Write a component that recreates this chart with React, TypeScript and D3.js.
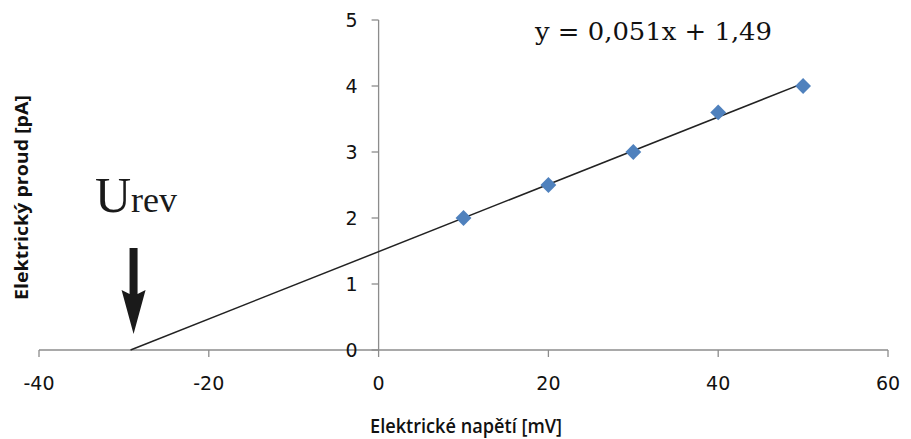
import React from "react";
import * as d3 from "d3";

const voltages = [10, 20, 30, 40, 50];
const currents = [2.0, 2.5, 3.0, 3.6, 4.0];
const xTicks = [-40, -20, 0, 20, 40, 60];
const yTicks = [0, 1, 2, 3, 4, 5];
const slope = 0.051;
const intercept = 1.49;
const equationLabel = "y = 0,051x + 1,49";
const xTitle = "Elektrické napětí [mV]";
const yTitle = "Elektrický proud [pA]";

const W = 911;
const H = 439;

export default function App() {
  const x = d3.scaleLinear().domain([-40, 60]).range([39, 888]);
  const y = d3.scaleLinear().domain([0, 5]).range([350, 20]);
  const axisColor = "#8c8c8c";
  const tickFont = "'DejaVu Sans', sans-serif";

  const x0 = -intercept / slope;
  const x1 = d3.max(voltages) as number;
  const trend = d3.line<number>().x((d) => x(d)).y((d) => y(slope * d + intercept));

  const diamond = d3.symbol().type(d3.symbolDiamond2).size(160);

  const arrowX = x(x0) + 3;

  return (
    <svg width={W} height={H} style={{ position: "absolute", left: 0, top: 0, background: "#fff" }}>
      {/* x axis */}
      <line x1={x(-40)} x2={x(60)} y1={y(0)} y2={y(0)} stroke={axisColor} strokeWidth={1.3} />
      {xTicks.map((t) => (
        <g key={"xt" + t}>
          <line x1={x(t)} x2={x(t)} y1={y(0)} y2={y(0) + 7} stroke={axisColor} strokeWidth={1.3} />
          <text x={x(t)} y={y(0) + 40} textAnchor="middle" fontFamily={tickFont} fontSize={19} fill="#111">
            {t}
          </text>
        </g>
      ))}
      {/* y axis */}
      <line x1={x(0)} x2={x(0)} y1={y(0)} y2={y(5)} stroke={axisColor} strokeWidth={1.3} />
      {yTicks.map((t) => (
        <g key={"yt" + t}>
          <line x1={x(0) - 7} x2={x(0)} y1={y(t)} y2={y(t)} stroke={axisColor} strokeWidth={1.3} />
          <text x={x(0) - 21} y={y(t) + 7} textAnchor="end" fontFamily={tickFont} fontSize={19} fill="#111">
            {t}
          </text>
        </g>
      ))}
      {/* trend line */}
      <path d={trend([x0, x1]) || ""} stroke="#222" strokeWidth={1.5} fill="none" />
      {/* points */}
      {voltages.map((v, i) => (
        <path
          key={"p" + i}
          d={diamond() || ""}
          transform={`translate(${x(v)},${y(currents[i])})`}
          fill="#4f81bd"
        />
      ))}
      {/* equation */}
      <text
        x={535}
        y={40}
        textLength={237}
        lengthAdjust="spacingAndGlyphs"
        fontFamily="'DejaVu Serif', 'Liberation Serif', serif"
        fontSize={25}
        fill="#111"
      >
        {equationLabel}
      </text>
      {/* Urev annotation */}
      <text x={95} y={212} fontFamily="'Liberation Serif', serif" fill="#1a1a1a">
        <tspan fontSize={50}>U</tspan>
        <tspan fontSize={36}>rev</tspan>
      </text>
      <path
        d={`M${arrowX - 4},248 L${arrowX + 4},248 L${arrowX + 4},294 L${arrowX + 12},290 L${arrowX},334 L${arrowX - 12},290 L${arrowX - 4},294 Z`}
        fill="#1a1a1a"
      />
      {/* axis titles */}
      <text
        x={370}
        y={433}
        textLength={192}
        lengthAdjust="spacingAndGlyphs"
        fontFamily="'Open Sans', 'Noto Sans', sans-serif"
        fontWeight={600}
        fontSize={20}
        fill="#111"
      >
        {xTitle}
      </text>
      <text
        transform={`translate(28,300) rotate(-90)`}
        textLength={205}
        lengthAdjust="spacingAndGlyphs"
        fontFamily="'Open Sans', 'Noto Sans', sans-serif"
        fontWeight="bold"
        fontSize={18}
        fill="#111"
      >
        {yTitle}
      </text>
    </svg>
  );
}
